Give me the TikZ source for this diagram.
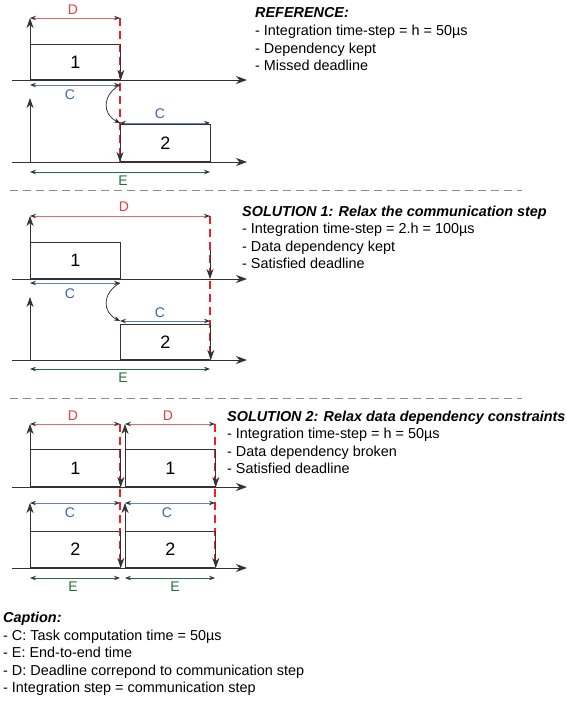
\documentclass[tikz,border=0pt]{standalone}
\usepackage{fontspec}
\setmainfont{Liberation Sans}
\usepackage{tikz}
\usetikzlibrary{arrows.meta}
\usetikzlibrary{positioning}
\definecolor{DRed}{RGB}{232,62,62}
\definecolor{DashRed}{RGB}{240,30,40}
\definecolor{CBlue}{RGB}{62,96,178}
\definecolor{EGreen}{RGB}{36,112,58}

\begin{document}
\begin{tikzpicture}[
x=1pt, y=-1pt,
every node/.style={font=\fontsize{14.4}{17}\selectfont},
Axis/.style={draw=black!80, line width=0.8pt, -{Stealth[length=11pt, width=8pt, inset=3.5pt]}},
VArrow/.style={draw=black!80, line width=0.8pt, -{Stealth[length=10pt, width=7pt, inset=3pt]}},
DeadLine/.style={draw=DashRed, line width=2.4pt, dash pattern=on 8pt off 5pt},
DimLine/.style={line width=0.8pt, {Stealth[black!80, length=6pt, width=4.5pt, inset=2pt]}-{Stealth[black!80, length=6pt, width=4.5pt, inset=2pt]}},
DimD/.style={DimLine, draw=DRed!80},
DimC/.style={DimLine, draw=CBlue!80},
DimE/.style={DimLine, draw=EGreen},
Link/.style={draw=black!85, line width=0.7pt, -{Stealth[length=6pt, width=4.5pt]}},
TaskBox/.style={draw=black!80, line width=0.8pt, inner sep=0pt, minimum width=90pt, anchor=south west, font=\fontsize{18}{20}\selectfont},
Sep/.style={draw=black!45, line width=0.9pt, dash pattern=on 8pt off 5pt},
Txt/.style={anchor=base west, inner sep=0pt},
Title/.style={Txt, font=\fontsize{14.4}{17}\selectfont\bfseries\itshape},
Lbl/.style={inner sep=0pt, font=\fontsize{14}{16}\selectfont}
]
\useasboundingbox (0,0) rectangle (567,702);

%%%%%%%%%%%%%%%% REFERENCE
\coordinate (a1s) at (12,80);  \coordinate (a1e) at (247,80);
\coordinate (a2s) at (12,162); \coordinate (a2e) at (247,162);
\draw[Axis] (a1s) -- (a1e);
\draw[Axis] (a2s) -- (a2e);

\node[TaskBox, minimum height=35pt] (r1) at (30,80) {1};
\node[TaskBox, minimum height=37pt] (r2) at (120,162) {2};

\draw[DeadLine] (120,18) -- (120,162);

\draw[VArrow] (r1.south west) -- (30,18);
\draw[VArrow] (30,162) -- (30,98);
\draw[VArrow] (r1.north east) -- (r1.south east);
\draw[VArrow] (r2.north west) -- (r2.south west);

\draw[DimD] (30,18) -- (120,18);
\node[Lbl, text=DRed] (d1) at (73,10) {D};
\draw[DimC] (30,85) -- (120,85);
\node[Lbl, text=CBlue] (c1) at (70,95) {C};
\draw[DimC] (120,123) -- (210,123);
\node[Lbl, text=CBlue] (c2) at (160,114) {C};
\draw[DimE] (30,172) -- (210,172);
\node[Lbl, text=EGreen] (e1) at (123,181) {E};
\draw[Link] (120,85) .. controls (102,95) and (102,114) .. (120,123);

\node[Title] (t0) at (255,17) {REFERENCE:};
\node[Txt] (t01) at (255,35) {- Integration time-step = h = 50µs};
\node[Txt] (t02) at (255,53) {- Dependency kept};
\node[Txt] (t03) at (255,70.5) {- Missed deadline};

\draw[Sep] (10,190) -- (522,190);

%%%%%%%%%%%%%%%% SOLUTION 1
\coordinate (b1s) at (12,279); \coordinate (b1e) at (247,279);
\coordinate (b2s) at (12,360); \coordinate (b2e) at (247,360);
\draw[Axis] (b1s) -- (b1e);
\draw[Axis] (b2s) -- (b2e);

\node[TaskBox, minimum height=36pt] (s1) at (30,279) {1};
\node[TaskBox, minimum height=35pt] (s2) at (120,360) {2};

\draw[DeadLine] (210,216) -- (210,360);

\draw[VArrow] (s1.south west) -- (30,216);
\draw[VArrow] (30,360) -- (30,297);
\draw[VArrow] (210,250) -- (210,279);
\draw[VArrow] (s2.north east) -- (s2.south east);

\draw[DimD] (30,216) -- (210,216);
\node[Lbl, text=DRed] (d2) at (124,207) {D};
\draw[DimC] (30,283) -- (120,283);
\node[Lbl, text=CBlue] (c3) at (70,294) {C};
\draw[DimC] (120,321) -- (210,321);
\node[Lbl, text=CBlue] (c4) at (160,313) {C};
\draw[DimE] (30,369) -- (210,369);
\node[Lbl, text=EGreen] (e2) at (123,378) {E};
\draw[Link] (120,283) .. controls (102,293) and (102,312) .. (120,321);

\node[Title] (t1) at (242,216) {SOLUTION 1: Relax the communication step};
\node[Txt] (t11) at (242,233.5) {- Integration time-step = 2.h = 100µs};
\node[Txt] (t12) at (242,251) {- Data dependency kept};
\node[Txt] (t13) at (242,268.5) {- Satisfied deadline};

\draw[Sep] (10,398) -- (522,398);

%%%%%%%%%%%%%%%% SOLUTION 2
\coordinate (c1s) at (12,487); \coordinate (c1e) at (247,487);
\coordinate (c2s) at (12,568); \coordinate (c2e) at (247,568);
\draw[Axis] (c1s) -- (c1e);
\draw[Axis] (c2s) -- (c2e);

\node[TaskBox, minimum height=37pt] (u1) at (30,487) {1};
\node[TaskBox, minimum height=37pt] (u2) at (125,487) {1};
\node[TaskBox, minimum height=36pt] (u3) at (30,568) {2};
\node[TaskBox, minimum height=36pt] (u4) at (125,568) {2};

\draw[DeadLine] (120,424) -- (120,568);
\draw[DeadLine] (215,424) -- (215,568);

\draw[VArrow] (u1.south west) -- (30,424);
\draw[VArrow] (u2.south west) -- (125,424);
\draw[VArrow] (u3.south west) -- (30,503);
\draw[VArrow] (u4.south west) -- (125,503);
\draw[VArrow] (u1.north east) -- (u1.south east);
\draw[VArrow] (u2.north east) -- (u2.south east);
\draw[VArrow] (u3.north east) -- (u3.south east);
\draw[VArrow] (u4.north east) -- (u4.south east);

\draw[DimD] (30,424) -- (120,424);
\node[Lbl, text=DRed] (d3) at (73,416) {D};
\draw[DimD] (125,424) -- (215,424);
\node[Lbl, text=DRed] (d4) at (168,416) {D};
\draw[DimC] (30,503) -- (120,503);
\node[Lbl, text=CBlue] (c5) at (70,513) {C};
\draw[DimC] (125,503) -- (215,503);
\node[Lbl, text=CBlue] (c6) at (167,513) {C};
\draw[DimE] (30,578) -- (120,578);
\node[Lbl, text=EGreen] (e3) at (73,587) {E};
\draw[DimE] (125,578) -- (215,578);
\node[Lbl, text=EGreen] (e4) at (175,587) {E};

\node[Title] (t2) at (227,421) {SOLUTION 2: Relax data dependency constraints};
\node[Txt] (t21) at (227,438.5) {- Integration time-step = h = 50µs};
\node[Txt] (t22) at (227,456) {- Data dependency broken};
\node[Txt] (t23) at (227,473.5) {- Satisfied deadline};

%%%%%%%%%%%%%%%% Caption
\node[Title] (cap) at (3,622) {Caption:};
\node[Txt] (cap1) at (3,640) {- C: Task computation time = 50µs};
\node[Txt] (cap2) at (3,657.5) {- E: End-to-end time};
\node[Txt] (cap3) at (3,675) {- D: Deadline correpond to communication step};
\node[Txt] (cap4) at (3,692.5) {- Integration step = communication step};

\end{tikzpicture}
\end{document}
